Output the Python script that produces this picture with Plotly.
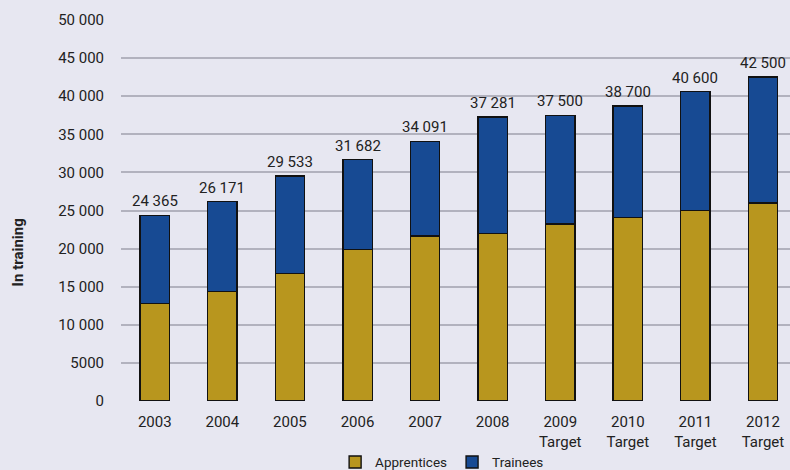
import plotly.graph_objects as go

years = ["2003", "2004", "2005", "2006", "2007", "2008",
         "2009<br>Target", "2010<br>Target", "2011<br>Target", "2012<br>Target"]
totals = [24365, 26171, 29533, 31682, 34091, 37281, 37500, 38700, 40600, 42500]
apprentices = [12800, 14400, 16750, 19900, 21650, 21950, 23250, 24050, 25000, 26000]
trainees = [t - a for t, a in zip(totals, apprentices)]
total_labels = ["24 365", "26 171", "29 533", "31 682", "34 091", "37 281",
                "37 500", "38 700", "40 600", "42 500"]
y_ticks = [0, 5000, 10000, 15000, 20000, 25000, 30000, 35000, 40000, 45000, 50000]
y_tick_labels = ["0", "5000", "10 000", "15 000", "20 000", "25 000",
                 "30 000", "35 000", "40 000", "45 000", "50 000"]

GOLD = "#B8961E"
BLUE = "#174A93"
BG = "#E7E7F1"
FONT = "Roboto"
TXT = "#222222"

fig = go.Figure()
fig.add_trace(go.Bar(x=years, y=apprentices, name="Apprentices",
                     marker=dict(color=GOLD, line=dict(color="#111111", width=1.4)),
                     width=0.435))
fig.add_trace(go.Bar(x=years, y=trainees, name="Trainees",
                     marker=dict(color=BLUE, line=dict(color="#111111", width=1.4)),
                     width=0.435))

for i, (t, lab) in enumerate(zip(totals, total_labels)):
    fig.add_annotation(x=i, y=t, text=lab, showarrow=False, yanchor="bottom",
                       yshift=3, font=dict(family=FONT, size=15, color=TXT))

fig.add_annotation(xref="paper", yref="paper", x=-0.154, y=0.39,
                   xanchor="center", yanchor="middle",
                   text="<b>In training</b>", textangle=-90, showarrow=False,
                   font=dict(family=FONT, size=15, color=TXT))

fig.update_layout(
    barmode="stack",
    width=790, height=470,
    margin=dict(l=121, r=0, t=20, b=69, autoexpand=False),
    paper_bgcolor=BG, plot_bgcolor=BG,
    font=dict(family=FONT, size=15, color=TXT),
    showlegend=True,
    legend=dict(orientation="h", x=0.48, xanchor="center", y=-0.12, yanchor="top",
                font=dict(family=FONT, size=13.5, color=TXT), traceorder="normal",
                itemwidth=30, bgcolor="rgba(0,0,0,0)"),
    xaxis=dict(range=[-0.5, 9.4], showgrid=False, zeroline=False, showline=False,
               ticks="", automargin=False, ticklabelstandoff=10,
               tickfont=dict(family=FONT, size=15, color=TXT)),
    yaxis=dict(range=[0, 50000], tickvals=y_ticks, ticktext=y_tick_labels,
               showgrid=True, gridcolor="#B2B2BE", gridwidth=1.5,
               zeroline=False, showline=False, ticks="", automargin=False,
               ticklabelstandoff=16,
               tickfont=dict(family=FONT, size=15, color=TXT)),
)

fig.write_html("out.html", config={"displayModeBar": False},
               post_script="document.body.style.margin='0';document.body.style.padding='0';document.body.style.overflow='hidden';")
